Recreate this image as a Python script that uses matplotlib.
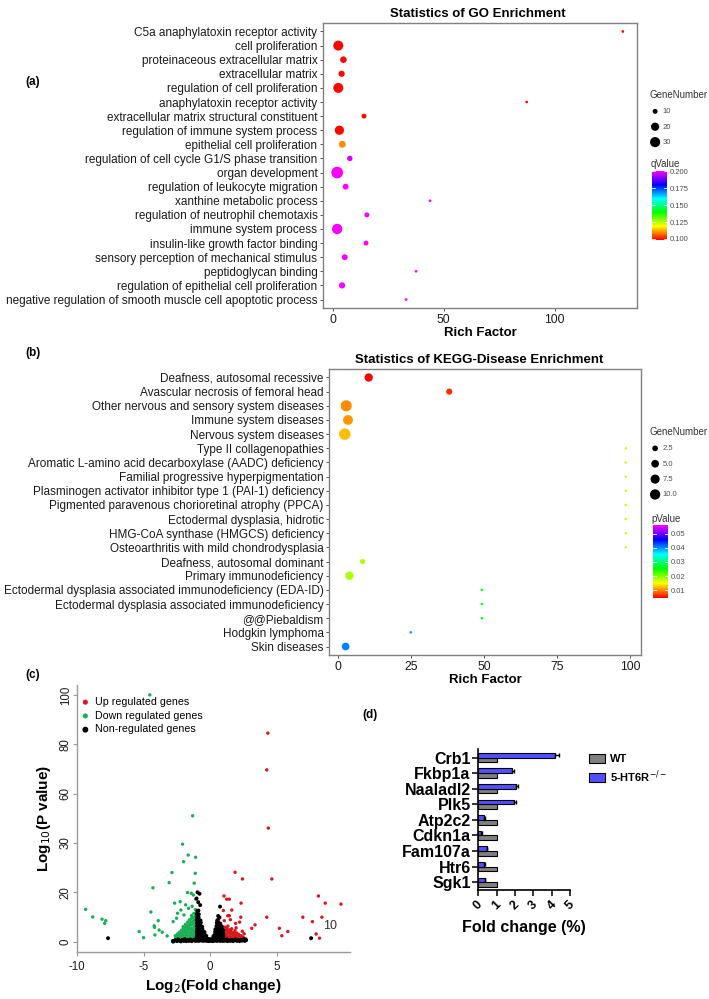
import numpy as np
import matplotlib
matplotlib.use('Agg')
import matplotlib.pyplot as plt
import matplotlib.colors as mcolors
from matplotlib.cm import ScalarMappable
from matplotlib.patches import Patch

plt.rcParams['font.family'] = ['Liberation Sans', 'DejaVu Sans']

W, H = 709, 999

# ---------------- data ----------------
# (a) GO enrichment, top to bottom
go_terms = ['C5a anaphylatoxin receptor activity', 'cell proliferation',
            'proteinaceous extracellular matrix', 'extracellular matrix',
            'regulation of cell proliferation', 'anaphylatoxin receptor activity',
            'extracellular matrix structural constituent',
            'regulation of immune system process', 'epithelial cell proliferation',
            'regulation of cell cycle G1/S phase transition', 'organ development',
            'regulation of leukocyte migration', 'xanthine metabolic process',
            'regulation of neutrophil chemotaxis', 'immune system process',
            'insulin-like growth factor binding',
            'sensory perception of mechanical stimulus', 'peptidoglycan binding',
            'regulation of epithelial cell proliferation',
            'negative regulation of smooth muscle cell apoptotic process']
go_rich = [130.8, 2.4, 4.7, 3.9, 2.4, 87.4, 14.0, 2.9, 4.2, 7.6,
           1.9, 5.7, 43.8, 15.3, 1.9, 14.9, 5.3, 37.5, 4.1, 33.0]
go_genes = [8, 29, 14, 13, 29, 8, 10, 25, 15, 11,
            40, 12, 8, 10, 31, 10, 12, 8, 13, 8]
go_qvalue = [0.099, 0.099, 0.099, 0.099, 0.099, 0.099, 0.099, 0.099, 0.110, 0.197,
             0.200, 0.200, 0.200, 0.200, 0.200, 0.200, 0.200, 0.200, 0.200, 0.200]

# (b) KEGG-Disease enrichment, top to bottom
kegg_terms = ['Deafness, autosomal recessive', 'Avascular necrosis of femoral head',
              'Other nervous and sensory system diseases', 'Immune system diseases',
              'Nervous system diseases', 'Type II collagenopathies',
              'Aromatic L-amino acid decarboxylase (AADC) deficiency',
              'Familial progressive hyperpigmentation',
              'Plasminogen activator inhibitor type 1 (PAI-1) deficiency',
              'Pigmented paravenous chorioretinal atrophy (PPCA)',
              'Ectodermal dysplasia, hidrotic', 'HMG-CoA synthase (HMGCS) deficiency',
              'Osteoarthritis with mild chondrodysplasia', 'Deafness, autosomal dominant',
              'Primary immunodeficiency',
              'Ectodermal dysplasia associated immunodeficiency (EDA-ID)',
              'Ectodermal dysplasia associated immunodeficiency', '@@Piebaldism',
              'Hodgkin lymphoma', 'Skin diseases']
kegg_rich = [10.4, 38.0, 2.7, 3.3, 2.2, 98.5, 98.5, 98.5, 98.5, 98.5,
             98.5, 98.5, 98.5, 8.3, 3.8, 49.2, 49.2, 49.2, 24.8, 2.5]
kegg_genes = [6, 3, 12, 9, 13, 1, 1, 1, 1, 1, 1, 1, 1, 2, 6, 1, 1, 1, 1, 5]
kegg_pvalue = [0.0043, 0.0062, 0.0100, 0.0106, 0.0121, 0.0168, 0.0168, 0.0168,
               0.0168, 0.0168, 0.0168, 0.0168, 0.0168, 0.0180, 0.0182,
               0.0250, 0.0250, 0.0250, 0.0400, 0.0406]

# (c) volcano plot points (log2 fold change, -log10 p)
up_pts = [(4.33, 84.5), (4.25, 69.6), (4.37, 46.0), (4.63, 25.4), (2.42, 25.4),
          (1.87, 28.1), (1.04, 18.5), (1.24, 17.2), (1.44, 17.2), (2.32, 15.6),
          (0.99, 12.6), (1.32, 10.5), (1.44, 10.5), (2.30, 9.9), (1.06, 8.5),
          (3.37, 6.8), (3.12, 5.4), (4.25, 9.9), (5.20, 5.4), (5.38, 2.4),
          (5.83, 4.1), (6.96, 9.9), (7.68, 8.1), (7.96, 3.1), (8.21, 1.4),
          (8.39, 9.9), (8.13, 18.5), (8.64, 15.6), (9.82, 15.2), (1.62, 12.8),
          (1.91, 7.4), (2.21, 7.9), (1.52, 8.9), (2.55, 3.2), (2.68, 1.1),
          (1.08, 1.0), (1.11, 2.3), (1.07, 3.5), (1.12, 4.7), (1.09, 5.9),
          (1.24, 0.7), (1.27, 1.9), (1.22, 3.1), (1.26, 4.4), (1.23, 5.5),
          (1.38, 1.2), (1.42, 2.4), (1.39, 3.7), (1.41, 4.8), (1.56, 0.8),
          (1.53, 2.0), (1.57, 3.2), (1.54, 4.3), (1.69, 1.3), (1.72, 2.5),
          (1.68, 3.7), (1.84, 0.9), (1.87, 2.1), (1.83, 3.3), (1.86, 4.5),
          (1.99, 1.4), (2.02, 2.6), (1.98, 3.5), (2.14, 0.8), (2.17, 2.0),
          (2.13, 3.0), (2.29, 1.3), (2.32, 2.4), (2.44, 0.9), (2.47, 1.9),
          (2.61, 1.2), (1.33, 6.3), (1.61, 5.2), (1.95, 5.6), (2.41, 4.2)]
down_pts = [(-4.53, 100.0), (-1.32, 51.0), (-2.07, 39.5), (-1.65, 35.1), (-1.09, 34.2),
            (-2.00, 32.4), (-2.87, 28.0), (-1.12, 27.7), (-3.08, 23.9), (-1.20, 23.7),
            (-4.30, 21.8), (-1.70, 19.9), (-1.42, 19.6), (-1.26, 18.9), (-1.09, 17.2),
            (-2.67, 15.6), (-2.25, 16.2), (-1.84, 14.9), (-4.45, 12.0), (-9.35, 13.1),
            (-8.82, 10.0), (-8.12, 9.1), (-7.84, 8.5), (-7.92, 7.4), (-3.90, 8.5),
            (-4.20, 6.4), (-4.18, 5.8), (-5.33, 4.1), (-3.83, 4.7), (-3.60, 3.8),
            (-4.15, 2.7), (-5.00, 1.6), (-3.23, 2.3), (-1.62, 13.5), (-1.35, 14.3),
            (-2.20, 12.8), (-2.45, 11.5), (-1.97, 10.8), (-2.52, 9.5), (-2.78, 8.1),
            (-1.08, 1.2), (-1.12, 2.5), (-1.07, 3.8), (-1.11, 5.0), (-1.06, 6.3),
            (-1.10, 7.5), (-1.07, 8.9), (-1.12, 10.2), (-1.08, 11.6), (-1.11, 13.0),
            (-1.24, 0.8), (-1.27, 2.1), (-1.23, 3.4), (-1.26, 4.6), (-1.22, 6.0),
            (-1.27, 7.2), (-1.24, 8.5), (-1.26, 9.8), (-1.23, 11.4),
            (-1.39, 1.5), (-1.42, 2.8), (-1.38, 4.1), (-1.41, 5.3), (-1.43, 6.7),
            (-1.39, 8.0), (-1.42, 9.3), (-1.40, 10.6),
            (-1.54, 0.9), (-1.57, 2.2), (-1.53, 3.5), (-1.56, 4.9), (-1.58, 6.2),
            (-1.54, 7.4), (-1.56, 8.8),
            (-1.69, 1.4), (-1.72, 2.7), (-1.68, 4.0), (-1.71, 5.4), (-1.73, 6.6),
            (-1.69, 7.9),
            (-1.84, 0.8), (-1.87, 2.0), (-1.83, 3.3), (-1.86, 4.6), (-1.88, 5.9),
            (-1.85, 7.0),
            (-1.99, 1.3), (-2.02, 2.6), (-1.98, 3.9), (-2.01, 5.1), (-2.03, 6.1),
            (-2.14, 0.9), (-2.17, 2.1), (-2.13, 3.4), (-2.16, 4.6),
            (-2.29, 1.5), (-2.32, 2.8), (-2.31, 3.8),
            (-2.44, 0.9), (-2.47, 2.0), (-2.45, 3.1), (-2.59, 1.4), (-2.62, 2.4)]
non_pts = [(-2.80, 0.3), (-2.62, 0.6), (-2.50, 0.2), (-2.41, 0.9), (-2.30, 0.4),
           (-2.20, 0.1), (-2.10, 0.7), (-1.99, 0.3), (-1.91, 1.0), (-1.80, 0.2),
           (-1.70, 0.6), (-1.61, 0.3), (-1.50, 0.9), (-1.40, 0.2), (-1.31, 0.5),
           (-1.20, 0.8), (-1.10, 0.3), (1.10, 0.4), (1.21, 0.9), (1.30, 0.2),
           (1.40, 0.6), (1.51, 0.3), (1.60, 0.8), (1.70, 0.2), (1.81, 0.5),
           (1.90, 0.9), (2.00, 0.3), (2.11, 0.6), (2.20, 0.2), (2.31, 0.7),
           (2.40, 0.4), (2.52, 1.0), (2.60, 0.3), (2.70, 0.6),
           (-1.00, 0.4), (-1.02, 1.6), (-0.99, 2.8), (-1.01, 4.0), (-0.98, 5.2),
           (-1.00, 6.4), (-0.99, 7.6), (-1.01, 8.8), (-0.98, 10.0), (-1.00, 11.2),
           (-0.97, 12.4),
           (-0.85, 0.3), (-0.86, 1.5), (-0.84, 2.7), (-0.87, 3.9), (-0.85, 5.1),
           (-0.83, 6.3), (-0.86, 7.5), (-0.84, 8.7), (-0.87, 9.9), (-0.85, 11.1),
           (-0.88, 12.6),
           (-0.70, 0.5), (-0.72, 1.7), (-0.69, 2.9), (-0.71, 4.1), (-0.68, 5.3),
           (-0.72, 6.5), (-0.70, 7.7), (-0.73, 8.6),
           (-0.55, 0.3), (-0.57, 1.5), (-0.54, 2.7), (-0.56, 3.9), (-0.58, 5.0),
           (-0.60, 6.0),
           (-0.40, 0.4), (-0.42, 1.6), (-0.39, 2.8), (-0.43, 3.9),
           (-0.25, 0.3), (-0.27, 1.3), (-0.29, 2.3), (-0.10, 0.2), (-0.12, 1.1),
           (0.05, 0.3), (0.06, 1.0), (0.20, 0.2), (0.22, 1.2), (0.24, 2.2),
           (0.35, 0.4), (0.36, 1.6), (0.34, 2.8), (0.37, 4.0), (0.39, 5.0),
           (0.50, 0.3), (0.49, 1.5), (0.51, 2.7), (0.48, 3.9), (0.50, 5.1),
           (0.47, 6.3), (0.50, 7.5), (0.52, 8.5),
           (0.62, 0.5), (0.63, 1.7), (0.61, 2.9), (0.64, 4.1), (0.62, 5.3),
           (0.60, 6.5), (0.63, 7.7), (0.58, 8.8),
           (0.75, 0.3), (0.76, 1.5), (0.74, 2.7), (0.77, 3.9), (0.75, 5.1),
           (0.73, 6.3), (0.76, 7.3),
           (0.88, 0.4), (0.87, 1.6), (0.89, 2.8), (0.86, 4.0), (0.88, 5.2),
           (0.87, 6.2),
           (0.98, 0.3), (0.97, 1.4), (0.99, 2.5), (0.96, 3.6), (0.98, 4.6),
           (-0.95, 20.0), (-0.80, 19.4), (-1.02, 17.5), (-0.90, 16.0), (-0.75, 14.8),
           (0.74, 14.2), (0.60, 10.4), (0.70, 9.8),
           (-7.67, 1.4), (7.58, 1.4), (-2.78, 0.0)]
volcano_yticks = [0, 20, 40, 60, 80, 100]
volcano_yticklabels = ['0', '20', '30', '60', '80', '100']

# (d) qPCR fold change
genes_d = ['Crb1', 'Fkbp1a', 'Naaladl2', 'Plk5', 'Atp2c2', 'Cdkn1a', 'Fam107a', 'Htr6', 'Sgk1']
wt_fc = [1.0, 1.0, 1.0, 1.0, 1.0, 1.0, 1.0, 1.0, 1.0]
ko_fc = [4.2, 1.83, 2.07, 1.96, 0.31, 0.16, 0.45, 0.30, 0.36]
ko_err = [0.22, 0.12, 0.12, 0.12, 0.03, 0.03, 0.03, 0.08, 0.03]

# ---------------- helpers ----------------
def fig_rect(left, top, right, bottom):
    return [left / W, 1 - bottom / H, (right - left) / W, (bottom - top) / H]

def dot_size(v, vmin, vmax, dmin, dmax):
    # ggplot-like area scale, diameter in px -> marker area in pt^2
    v = np.asarray(v, dtype=float)
    d = dmin + (dmax - dmin) * np.sqrt(np.clip((v - vmin) / (vmax - vmin), 0, 1))
    return (d * 0.72) ** 2

rainbow = mcolors.LinearSegmentedColormap.from_list(
    'rb', ['#FF0000', '#FFFF00', '#00FF00', '#00FFFF', '#0000FF', '#FF00FF'])

fig = plt.figure(figsize=(7.09, 9.99), dpi=100)

def enrich_panel(rect, terms, rich, genes, vals, norm, xlim, xticks, title, title_x, sz):
    ax = fig.add_axes(rect)
    y = np.arange(len(terms))
    ax.scatter(rich, y, s=dot_size(genes, *sz), c=vals, cmap=rainbow, norm=norm,
               edgecolors='none', zorder=3)
    ax.set_ylim(len(terms) - 0.4, -0.6)
    ax.set_xlim(*xlim)
    ax.set_yticks(y)
    ax.set_yticklabels(terms, fontsize=8.5, color='#1a1a1a')
    ax.set_xticks(xticks)
    ax.tick_params(axis='x', labelsize=8.8, colors='#333333', length=2.5, width=0.6, pad=1.5)
    ax.tick_params(axis='y', colors='#333333', length=2.5, width=0.6, pad=1.5)
    for lab in ax.get_xticklabels():
        lab.set_color('#1a1a1a')
    for lab in ax.get_yticklabels():
        lab.set_color('#1a1a1a')
    for s in ax.spines.values():
        s.set_color('#808080')
        s.set_linewidth(1.0)
    ax.set_title(title, fontsize=9.5, fontweight='bold', pad=4, x=title_x)
    ax.set_xlabel('Rich Factor', fontsize=9.5, fontweight='bold', labelpad=1)
    return ax

def size_legend(xy, breaks, sz, labels):
    handles = [plt.scatter([], [], s=dot_size(b, *sz), c='black', edgecolors='none')
               for b in breaks]
    lg = fig.legend(handles, labels, title='GeneNumber', loc='upper left',
                    bbox_to_anchor=(xy[0] / W, 1 - xy[1] / H), frameon=False,
                    fontsize=5.5, title_fontsize=7, alignment='left',
                    handletextpad=0.2, labelspacing=1.05, borderpad=0,
                    borderaxespad=0, handlelength=1.6)
    for t in lg.get_texts():
        t.set_color('#4d4d4d')
    lg.get_title().set_color('#333333')

def color_legend(rect, norm, ticks, fmt, label, title_xy):
    cax = fig.add_axes(fig_rect(*rect))
    cb = fig.colorbar(ScalarMappable(norm=norm, cmap=rainbow), cax=cax)
    cb.outline.set_visible(False)
    cb.set_ticks(ticks)
    cb.set_ticklabels([fmt % t for t in ticks])
    cax.tick_params(length=0, labelsize=5.5, labelcolor='#4d4d4d', pad=2)
    for t in ticks:
        cax.axhline(t, xmin=0, xmax=0.2, color='white', lw=0.6)
        cax.axhline(t, xmin=0.8, xmax=1, color='white', lw=0.6)
    fig.text(title_xy[0] / W, 1 - title_xy[1] / H, label, fontsize=7,
             color='#333333', ha='left', va='center')

# ---------------- (a) ----------------
go_norm = mcolors.Normalize(0.0985, 0.2005)
go_sz = (8, 40, 2.7, 11.7)
enrich_panel(fig_rect(323, 23, 637, 308), go_terms, go_rich, go_genes, go_qvalue,
             go_norm, (-4.5, 137.2), [0, 50, 100], 'Statistics of GO Enrichment',
             (478 - 323) / 314, go_sz)
size_legend((649, 90), [10, 20, 30], go_sz, ['10', '20', '30'])
color_legend((652, 171, 667, 240), go_norm, [0.100, 0.125, 0.150, 0.175, 0.200], '%.3f',
             'qValue', (651, 164))
fig.text(33 / W, 1 - 82 / H, '(a)', fontsize=8.5, fontweight='bold', ha='center', va='center')

# ---------------- (b) ----------------
kegg_norm = mcolors.Normalize(0.0043, 0.0564)
kegg_sz = (1, 13, 2.5, 11.5)
enrich_panel(fig_rect(329.3, 369, 640.7, 655), kegg_terms, kegg_rich, kegg_genes,
             kegg_pvalue, kegg_norm, (-3.1, 103.6), [0, 25, 50, 75, 100],
             'Statistics of KEGG-Disease Enrichment', (479 - 329.3) / 311.4, kegg_sz)
size_legend((649, 427), [2.5, 5.0, 7.5, 10.0], kegg_sz, ['2.5', '5.0', '7.5', '10.0'])
color_legend((653, 525, 668, 598), kegg_norm, [0.01, 0.02, 0.03, 0.04, 0.05], '%.2f',
             'pValue', (651, 519))
fig.text(33 / W, 1 - 353 / H, '(b)', fontsize=8.5, fontweight='bold', ha='center', va='center')

# ---------------- (c) ----------------
axc = fig.add_axes(fig_rect(77, 685, 350, 952))
ux, uy = zip(*up_pts)
dx, dy = zip(*down_pts)
nx, ny = zip(*non_pts)
axc.scatter(ux, uy, s=6, c='#D7191C', edgecolors='none', label='Up regulated genes')
axc.scatter(dx, dy, s=6, c='#1AAF54', edgecolors='none', label='Down regulated genes')
axc.scatter(nx, ny, s=8, c='black', edgecolors='none', label='Non-regulated genes')
axc.set_xlim(-10, 10.5)
axc.set_ylim(-4.2, 104)
axc.set_xticks([-10, -5, 0, 5])
axc.set_xticklabels(['-10', '-5', '0', '5'])
axc.set_yticks(volcano_yticks)
axc.set_yticklabels(volcano_yticklabels, rotation=90, va='center')
axc.tick_params(labelsize=8.3, color='#999999', length=3, width=0.8, labelcolor='#1a1a1a')
axc.tick_params(axis='y', pad=0.8)
for side in ['top', 'right']:
    axc.spines[side].set_visible(False)
for side in ['left', 'bottom']:
    axc.spines[side].set_color('#9a9a9a')
    axc.spines[side].set_linewidth(1.0)
axc.set_xlabel('Log$_2$(Fold change)', fontsize=11, fontweight='bold', labelpad=3)
axc.set_ylabel('Log$_{10}$(P value)', fontsize=11, fontweight='bold', labelpad=5)
axc.text(9.0, 6.4, '10', fontsize=9, color='#333333', ha='center', va='center')
lgc = axc.legend(loc='upper left', bbox_to_anchor=(80 / W, 1 - 697 / H),
                 bbox_transform=fig.transFigure, frameon=False,
                 fontsize=7.7, handletextpad=0.4, labelspacing=0.35, markerscale=1.5,
                 borderaxespad=0, borderpad=0, handlelength=1.0)
fig.text(33 / W, 1 - 675 / H, '(c)', fontsize=8.5, fontweight='bold', ha='center', va='center')

# ---------------- (d) ----------------
axd = fig.add_axes(fig_rect(478.3, 749, 570, 890))
yd = np.arange(len(genes_d))
bh = 0.3
axd.barh(yd + 0.15, wt_fc, height=bh, color='#808080', edgecolor='black', linewidth=0.8,
         label='WT')
axd.barh(yd - 0.15, ko_fc, height=bh, color='#5050FF', edgecolor='black', linewidth=0.8,
         xerr=[np.zeros(len(ko_err)), ko_err], capsize=1.5,
         error_kw=dict(elinewidth=1.0, capthick=1.0, ecolor='black'),
         label='5-HT6R$^{-/-}$')
axd.set_xlim(0, 5)
axd.set_ylim(len(genes_d) - 0.5, -0.55)
axd.set_yticks(yd)
axd.set_yticklabels(genes_d, fontsize=11.5, fontweight='bold')
axd.set_xticks([0, 1, 2, 3, 4, 5])
axd.set_xticklabels(['0', '1', '2', '3', '4', '5'], rotation=45, fontsize=9,
                    fontweight='bold', ha='center', va='top')
axd.tick_params(length=4, width=1.1, pad=1.5)
axd.tick_params(axis='x', pad=2)
for side in ['top', 'right']:
    axd.spines[side].set_visible(False)
for side in ['left', 'bottom']:
    axd.spines[side].set_linewidth(1.2)
axd.set_xlabel('Fold change (%)', fontsize=11.5, fontweight='bold', labelpad=6)
leg_handles = [Patch(facecolor='#808080', edgecolor='black', linewidth=0.8),
               Patch(facecolor='#5050FF', edgecolor='black', linewidth=0.8)]
lgd = fig.legend(leg_handles, ['WT', '5-HT6R$^{-/-}$'], loc='upper left',
                 bbox_to_anchor=(589 / W, 1 - 754 / H), frameon=False,
                 prop={'weight': 'bold', 'size': 8}, handlelength=1.4, handleheight=0.9,
                 handletextpad=0.5, labelspacing=0.35, borderpad=0, borderaxespad=0)
fig.text(370 / W, 1 - 715 / H, '(d)', fontsize=8.5, fontweight='bold', ha='center', va='center')

fig.savefig('out.png', dpi=100)
